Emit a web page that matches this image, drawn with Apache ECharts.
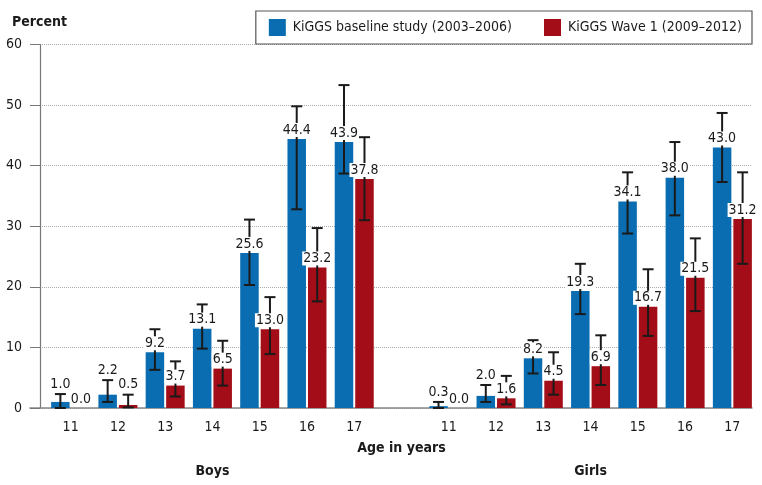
<!DOCTYPE html>
<html>
<head>
<meta charset="utf-8">
<script src="https://cdn.jsdelivr.net/npm/echarts@6/dist/echarts.min.js"></script>
<style>html,body{margin:0;padding:0;background:#fff}#c{width:762px;height:485px}</style>
</head>
<body>
<div id="c"></div>
<script>
// ---- data ----
const categories = ['11','12','13','14','15','16','17','','11','12','13','14','15','16','17'];
const groupLabels = ['','','','Boys','','','','','','','','Girls','','',''];
const seriesNames = ['KiGGS baseline study (2003–2006)', 'KiGGS Wave 1 (2009–2012)'];
const baseline = [1.0, 2.2, 9.2, 13.1, 25.6, 44.4, 43.9, null, 0.3, 2.0, 8.2, 19.3, 34.1, 38.0, 43.0];
const baselineLow = [0.0, 1.0, 6.3, 9.8, 20.3, 32.8, 38.7, null, 0.0, 1.0, 5.7, 15.5, 28.8, 31.8, 37.3];
const baselineHigh = [2.3, 4.6, 13.0, 17.1, 31.1, 49.8, 53.3, null, 1.0, 3.8, 11.2, 23.8, 38.9, 43.9, 48.7];
const wave1 = [0.0, 0.5, 3.7, 6.5, 13.0, 23.2, 37.8, null, 0.0, 1.6, 4.5, 6.9, 16.7, 21.5, 31.2];
const wave1Low = [null, 0.1, 1.9, 3.7, 8.9, 17.6, 31.0, null, null, 0.6, 2.2, 3.8, 11.9, 16.0, 23.8];
const wave1High = [null, 2.2, 7.7, 11.1, 18.3, 29.7, 44.7, null, null, 5.3, 9.2, 12.0, 22.9, 28.0, 38.9];
const yTicks = {min: 0, max: 60, interval: 10};

// ---- style ----
const FONT = '"DejaVu Sans Condensed", "Liberation Sans Narrow", sans-serif';
const FS = 14;
const BLUE = '#0a6db1';
const RED = '#a20d17';
const INK = '#1a1a1a';
const BAR_W = 18.5;
const BAR_GAP = 2;

function errData(vals, lows, highs) {
  const out = [];
  vals.forEach((v, i) => {
    if (v === null) return;
    out.push([i, v, lows[i] === null ? '-' : lows[i], highs[i] === null ? '-' : highs[i]]);
  });
  return out;
}

function makeRender(sign) {
  return function (params, api) {
    const idx = api.value(0);
    const v = api.value(1);
    const lo = api.value(2);
    const hi = api.value(3);
    const off = sign * (BAR_W + BAR_GAP) / 2;
    const base = api.coord([idx, v]);
    const x = base[0] + off;
    const barTop = base[1];
    const children = [];
    let labelY = barTop - 2;
    if (!isNaN(lo) && !isNaN(hi)) {
      const pLo = api.coord([idx, lo])[1];
      const pHi = api.coord([idx, hi])[1];
      const style = {stroke: INK, lineWidth: 2};
      children.push({type: 'line', shape: {x1: x, y1: pLo, x2: x, y2: pHi}, style});
      children.push({type: 'line', shape: {x1: x - 5.5, y1: pHi, x2: x + 5.5, y2: pHi}, style});
      children.push({type: 'line', shape: {x1: x - 5.5, y1: pLo, x2: x + 5.5, y2: pLo}, style});
      if (barTop - pHi < 16) labelY = pHi - 3;
    }
    children.push({
      type: 'text', z2: 20,
      x: x, y: labelY,
      style: {
        text: v.toFixed(1), fill: INK, font: FS + 'px ' + FONT,
        align: 'center', verticalAlign: 'bottom',
        backgroundColor: '#fff', padding: [0, 1, 0, 1]
      }
    });
    return {type: 'group', children};
  };
}

const chart = echarts.init(document.getElementById('c'), null, {renderer: 'canvas'});
chart.setOption({
  animation: false,
  backgroundColor: '#fff',
  textStyle: {fontFamily: FONT},
  title: {
    text: 'Percent', left: 7, top: 10,
    textStyle: {fontFamily: FONT, fontSize: FS, fontWeight: 'bold', color: INK}
  },
  legend: {
    data: seriesNames,
    icon: 'rect',
    right: 10, top: 11,
    padding: [8, 10, 8, 13],
    itemGap: 32,
    itemWidth: 17, itemHeight: 17,
    borderColor: '#555', borderWidth: 1.2,
    backgroundColor: '#fff',
    textStyle: {fontFamily: FONT, fontSize: FS, color: INK, padding: [0, 0, 0, 2]}
  },
  grid: [
    {left: 47, right: 6, top: 44.5, bottom: 77},
    {left: 30, right: 10, top: 44.5, bottom: 77}
  ],
  xAxis: [
    {
      type: 'category', gridIndex: 0, data: categories,
      axisLine: {show: false}, axisTick: {show: false},
      axisLabel: {margin: 12, fontSize: FS, color: INK, fontFamily: FONT, interval: 0},
      name: 'Age in years', nameLocation: 'middle', nameGap: 33,
      nameTextStyle: {fontSize: FS, fontWeight: 'bold', color: INK, fontFamily: FONT}
    },
    {
      type: 'category', gridIndex: 0, data: groupLabels, position: 'bottom', offset: 48,
      axisLine: {show: false}, axisTick: {show: false},
      axisLabel: {interval: 0, fontSize: FS, fontWeight: 'bold', color: INK, fontFamily: FONT}
    },
    {
      type: 'value', gridIndex: 1, min: 0, max: 1,
      axisLine: {show: true, lineStyle: {color: '#888', width: 1.5}},
      axisTick: {show: false}, axisLabel: {show: false}, splitLine: {show: false}
    }
  ],
  yAxis: [
    {type: 'value', gridIndex: 0, min: yTicks.min, max: yTicks.max, interval: yTicks.interval, show: false},
    {
      type: 'value', gridIndex: 1, min: yTicks.min, max: yTicks.max, interval: yTicks.interval,
      offset: -10,
      axisLine: {show: true, lineStyle: {color: '#777', width: 1.2}},
      axisTick: {show: true, length: 10, lineStyle: {color: '#777'}},
      axisLabel: {margin: 18, fontSize: FS, color: INK, fontFamily: FONT},
      splitLine: {show: true, lineStyle: {type: 'dotted', color: '#aaa', width: 1}}
    }
  ],
  series: [
    {
      name: seriesNames[0], type: 'bar', xAxisIndex: 0, yAxisIndex: 0,
      data: baseline, barWidth: BAR_W, barGap: (BAR_GAP / BAR_W * 100) + '%',
      itemStyle: {color: BLUE}
    },
    {
      name: seriesNames[1], type: 'bar', xAxisIndex: 0, yAxisIndex: 0,
      data: wave1, barWidth: BAR_W,
      itemStyle: {color: RED}
    },
    {
      name: 'err0', type: 'custom', xAxisIndex: 0, yAxisIndex: 0,
      renderItem: makeRender(-1), data: errData(baseline, baselineLow, baselineHigh),
      encode: {x: 0, y: [1, 2, 3]}, z: 5
    },
    {
      name: 'err1', type: 'custom', xAxisIndex: 0, yAxisIndex: 0,
      renderItem: makeRender(1), data: errData(wave1, wave1Low, wave1High),
      encode: {x: 0, y: [1, 2, 3]}, z: 5
    }
  ]
});
</script>
</body>
</html>
